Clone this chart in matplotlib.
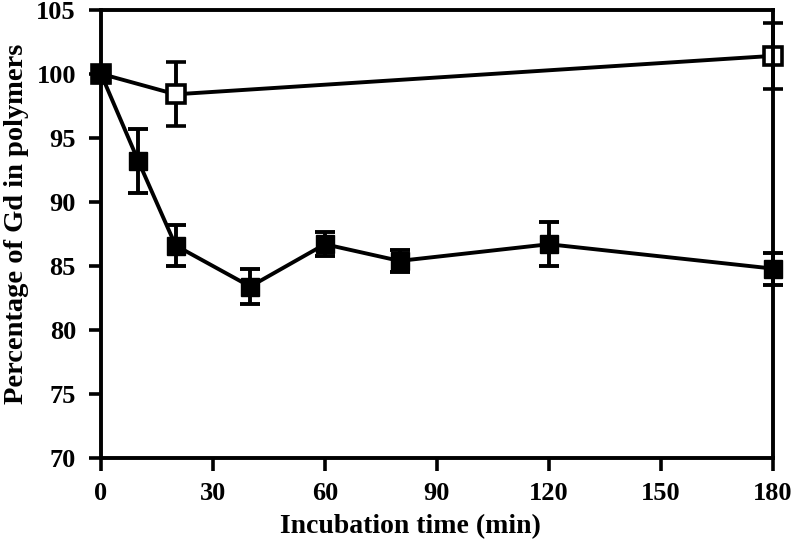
import matplotlib
matplotlib.use("Agg")
from matplotlib import pyplot as plt

# Serie con caida (cuadrados rellenos)
tiempo_lleno = [0, 10, 20, 40, 60, 80, 120, 180]
gd_lleno = [100.0, 93.2, 86.6, 83.4, 86.7, 85.4, 86.7, 84.8]
err_lleno = [0.0, 2.5, 1.6, 1.35, 0.95, 0.85, 1.7, 1.25]

# Serie control (cuadrados vacios)
tiempo_vacio = [0, 20, 180]
gd_vacio = [100.0, 98.4, 101.4]
err_vacio = [0.0, 2.5, 2.6]

x_ticks = [0, 30, 60, 90, 120, 150, 180]
y_ticks = [70, 75, 80, 85, 90, 95, 100, 105]

plt.rcParams["font.family"] = ["Liberation Serif", "DejaVu Serif"]
plt.rcParams["font.weight"] = "bold"

fig = plt.figure(figsize=(7.95, 5.41), dpi=100)
ax = fig.add_axes([0.127, 0.153, 0.845, 0.829])

lw = 2.8
ax.errorbar(tiempo_vacio, gd_vacio, yerr=err_vacio, color="black",
            marker="s", markersize=13, markerfacecolor="white",
            markeredgecolor="black", markeredgewidth=2.6, linewidth=lw,
            elinewidth=lw, capsize=7, capthick=lw, clip_on=False, zorder=3)
ax.errorbar(tiempo_lleno, gd_lleno, yerr=err_lleno, color="black",
            marker="s", markersize=13, markerfacecolor="black",
            markeredgecolor="black", linewidth=lw,
            elinewidth=lw, capsize=7, capthick=lw, clip_on=False, zorder=4)

ax.set_xlim(0, 180)
ax.set_ylim(70, 105)
ax.set_xticks(x_ticks)
ax.set_yticks(y_ticks)
ax.tick_params(direction="out", length=9, width=2.6, labelsize=19)
ax.tick_params(axis="y", pad=9)
ax.tick_params(axis="x", pad=8)
for lab in ax.get_xticklabels() + ax.get_yticklabels():
    lab.set_fontweight("bold")
for s in ax.spines.values():
    s.set_linewidth(2.8)
    s.set_zorder(5)

ax.set_xlabel("Incubation time (min)", fontsize=20, fontweight="bold")
ax.set_ylabel("Percentage of Gd in polymers", fontsize=20.5, fontweight="bold")
ax.xaxis.set_label_coords(0.46, -0.124)
ax.yaxis.set_label_coords(-0.107, 0.522)

plt.savefig("out.png", dpi=100)
